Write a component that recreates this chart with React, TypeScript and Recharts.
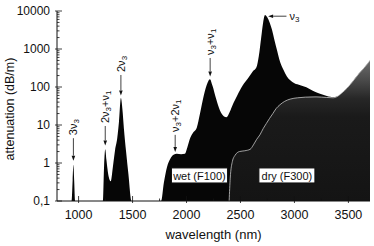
import React from 'react';
import { ComposedChart, Area, XAxis, YAxis, ReferenceLine, ReferenceDot } from 'recharts';

const FONT = '"Liberation Sans", Arial, Helvetica, sans-serif';
const INK = '#111';

// wet fibre (F100): wavelength in nm, attenuation in dB/m
const wetWavelength = [
  800, 935, 945, 952, 959, 968,
  1225, 1236, 1247, 1258, 1278, 1298, 1318, 1338, 1358, 1374, 1392, 1406, 1420, 1440, 1462, 1492,
  1765, 1790, 1820, 1850, 1880, 1910, 1950, 1985, 2008, 2035, 2065, 2095, 2125, 2160, 2195, 2217,
  2240, 2275, 2310, 2345, 2370, 2400, 2435, 2470, 2520, 2570, 2615, 2648, 2670, 2692, 2710, 2727,
  2748, 2770, 2792, 2815, 2838, 2868, 2899, 2930, 2961, 3000, 3054, 3110, 3170, 3230, 3300, 3360,
  3390, 3440, 3490, 3540, 3600, 3650, 3700,
];
const wetAttenuation = [
  0.1, 0.1, 0.35, 0.9, 0.35, 0.1,
  0.1, 0.8, 2.3, 1.2, 0.45, 0.33, 0.8, 2.2, 4.5, 12, 51, 26, 8, 2, 0.5, 0.1,
  0.1, 0.3, 0.8, 1.3, 1.65, 1.75, 1.7, 1.75, 2.6, 4.6, 6.5, 8.5, 20, 60, 130, 160,
  110, 48, 24, 17, 16, 22, 38, 60, 110, 170, 260, 330, 650, 2000, 5000, 7800,
  6800, 5000, 3200, 1700, 940, 450, 280, 190, 150, 125, 112, 98, 80, 67, 58, 54,
  55, 70, 95, 140, 230, 330, 500,
];

// dry fibre (F300)
const dryWavelength = [
  2395, 2405, 2425, 2450, 2490, 2540, 2590, 2620, 2650, 2680, 2710, 2740, 2770, 2800, 2830,
  2865, 2910, 2960, 3030, 3100, 3200, 3300, 3360, 3390, 3440, 3490, 3540, 3600, 3650, 3700,
];
const dryAttenuation = [
  0.1, 0.4, 1.1, 1.6, 2.0, 2.1, 2.3, 3.0, 4.2, 5.5, 8, 11, 15, 20, 27,
  34, 42, 48, 52, 54, 55, 53, 52, 55, 70, 95, 140, 230, 330, 500,
];

// band assignments: arrow from tail to tip, label beyond the tail
const bandLabels = ['3ν_3', '2ν_3+ν_1', '2ν_3', 'ν_3+2ν_1', 'ν_3+ν_1', 'ν_3'];
const bandTailX = [952, 1247, 1392, 1895, 2219, 2926];
const bandTailY = [4.5, 9.4, 207, 5.5, 580, 7300];
const bandTipX = [952, 1247, 1392, 1895, 2219, 2756];
const bandTipY = [1.15, 2.9, 60, 1.95, 190, 7300];

const tagText = ['wet (F100)', 'dry (F300)'];
const tagX = [2120, 2930];
const tagY = [0.47, 0.47];

const xMajorTicks = [1000, 1500, 2000, 2500, 3000, 3500];
const xMinorTicks = [1250, 1750, 2250, 2750, 3250];
const yMajorTicks = [0.1, 1, 10, 100, 1000, 10000];
const yTickLabels = ['0,1', '1', '10', '100', '1000', '10000'];
const yMinorTicks = [0.1, 1, 10, 100, 1000].flatMap((d) =>
  [2, 3, 4, 5, 6, 7, 8, 9].map((m) => Number((d * m).toPrecision(2))),
);

const wet = wetWavelength.map((nm, i) => ({ nm, att: wetAttenuation[i] }));
const dry = dryWavelength.map((nm, i) => ({ nm, att: dryAttenuation[i] }));

function bandText(label: string) {
  const segs = label.split(/_(\d)/);
  return segs.map((s, i) => {
    if (i % 2 === 1) {
      return (
        <tspan key={i} dy={3} fontSize={8}>
          {s}
        </tspan>
      );
    }
    if (!s) return null;
    return (
      <tspan key={i} dy={i > 0 ? -3 : 0}>
        {s}
      </tspan>
    );
  });
}

function BandArrow({ x1, y1, x2, y2, label }: any) {
  const dx = x1 - x2;
  const dy = y1 - y2;
  const len = Math.hypot(dx, dy) || 1;
  const ux = dx / len;
  const uy = dy / len;
  const head = 5;
  const half = 1.8;
  const bx = x2 + ux * head;
  const by = y2 + uy * head;
  const pts = `${x2},${y2} ${bx - uy * half},${by + ux * half} ${bx + uy * half},${by - ux * half}`;
  const vertical = Math.abs(dy) > Math.abs(dx);
  const lx = x1 + ux * 3;
  const ly = y1 + uy * 3;
  return (
    <g>
      <line x1={x1} y1={y1} x2={bx} y2={by} stroke={INK} strokeWidth={0.8} />
      <polygon points={pts} fill={INK} />
      <text
        x={lx}
        y={ly}
        transform={vertical ? `rotate(-90 ${lx} ${ly})` : undefined}
        textAnchor="start"
        dominantBaseline="central"
        fontSize={11}
        fontFamily={FONT}
        fill={INK}
      >
        {bandText(label)}
      </text>
    </g>
  );
}

function TagBox({ cx, cy, text }: any) {
  const w = 56;
  const h = 15;
  return (
    <g>
      <rect x={cx - w / 2} y={cy - h / 2} width={w} height={h} fill="#fff" stroke={INK} strokeWidth={1} />
      <text x={cx} y={cy + 0.5} textAnchor="middle" dominantBaseline="central" fontSize={11} fontFamily={FONT} fill={INK}>
        {text}
      </text>
    </g>
  );
}

function YTick({ x, y, payload }: any) {
  const i = yMajorTicks.indexOf(payload.value);
  const major = i >= 0;
  return (
    <g>
      <line x1={major ? x - 2 : x} x2={major ? x + 5 : x + 2.5} y1={y} y2={y} stroke={INK} strokeWidth={0.8} />
      {major && (
        <text x={x - 7} y={y} textAnchor="end" dominantBaseline="central" fontSize={12} fontFamily={FONT} fill={INK}>
          {yTickLabels[i]}
        </text>
      )}
    </g>
  );
}

function XTick({ x, y, payload }: any) {
  const major = xMajorTicks.includes(payload.value);
  return (
    <g>
      <line x1={x} x2={x} y1={major ? y + 2 : y} y2={major ? y - 5 : y - 2.5} stroke={INK} strokeWidth={0.8} />
      {major && (
        <text x={x} y={y + 18} textAnchor="middle" fontSize={12.5} fontFamily={FONT} fill={INK}>
          {payload.value}
        </text>
      )}
    </g>
  );
}

export default function App() {
  return (
    <div style={{ position: 'absolute', left: 0, top: 0, width: 374, height: 246, background: '#fff' }}>
      <ComposedChart width={374} height={246} margin={{ top: 11, right: 4, bottom: 0, left: 0 }}>
        <defs>
          <linearGradient id="dryFill" x1="0" y1="0" x2="0" y2="1">
            <stop offset="0" stopColor="#6c6c6c" />
            <stop offset="0.14" stopColor="#4a4a4a" />
            <stop offset="0.27" stopColor="#272727" />
            <stop offset="0.4" stopColor="#1a1a1a" />
            <stop offset="1" stopColor="#141414" />
          </linearGradient>
        </defs>
        <XAxis
          dataKey="nm"
          type="number"
          domain={[800, 3700]}
          allowDataOverflow
          ticks={[...xMajorTicks, ...xMinorTicks]}
          interval={0}
          height={45}
          tickSize={0}
          tickMargin={0}
          tick={<XTick />}
          tickLine={false}
          axisLine={{ stroke: INK, strokeWidth: 1 }}
          label={{
            content: (p: any) => {
              const vb = p.viewBox || { x: 57, y: 201, width: 313 };
              return (
                <text x={vb.x + vb.width / 2} y={vb.y + 38} textAnchor="middle" fontSize={13} fontFamily={FONT} fill={INK}>
                  wavelength (nm)
                </text>
              );
            },
          }}
        />
        <XAxis xAxisId="top" orientation="top" type="number" domain={[800, 3700]} height={0} tick={false} tickLine={false} axisLine={{ stroke: '#555' }} />
        <YAxis
          scale="log"
          type="number"
          domain={[0.1, 10000]}
          allowDataOverflow
          ticks={[...yMajorTicks, ...yMinorTicks]}
          interval={0}
          width={57}
          tickSize={0}
          tickMargin={0}
          tick={<YTick />}
          tickLine={false}
          axisLine={{ stroke: INK, strokeWidth: 1 }}
          label={{
            content: (p: any) => {
              const vb = p.viewBox || { x: 0, y: 11, height: 190 };
              const cx = vb.x + 10;
              const cy = vb.y + vb.height / 2 + 3;
              return (
                <text x={cx} y={cy} transform={`rotate(-90 ${cx} ${cy})`} textAnchor="middle" dominantBaseline="central" fontSize={12.5} fontFamily={FONT} fill={INK}>
                  attenuation (dB/m)
                </text>
              );
            },
          }}
        />
        <YAxis yAxisId="right" orientation="right" type="number" domain={[0, 1]} width={0} tick={false} tickLine={false} axisLine={{ stroke: '#444' }} />

        <Area data={wet} dataKey="att" type="monotone" baseValue={0.1} fill="#060606" fillOpacity={1} stroke="none" isAnimationActive={false} />
        <Area data={dry} dataKey="att" type="monotone" baseValue={0.1} fill="url(#dryFill)" fillOpacity={1} stroke="#c4c4c4" strokeWidth={0.8} isAnimationActive={false} />

        {bandLabels.map((label, i) => (
          <ReferenceLine
            key={label}
            segment={[
              { x: bandTailX[i], y: bandTailY[i] },
              { x: bandTipX[i], y: bandTipY[i] },
            ]}
            ifOverflow="visible"
            shape={(p: any) => <BandArrow {...p} label={label} />}
          />
        ))}
        {tagText.map((text, i) => (
          <ReferenceDot key={text} x={tagX[i]} y={tagY[i]} ifOverflow="visible" shape={(p: any) => <TagBox {...p} text={text} />} />
        ))}
      </ComposedChart>
    </div>
  );
}
